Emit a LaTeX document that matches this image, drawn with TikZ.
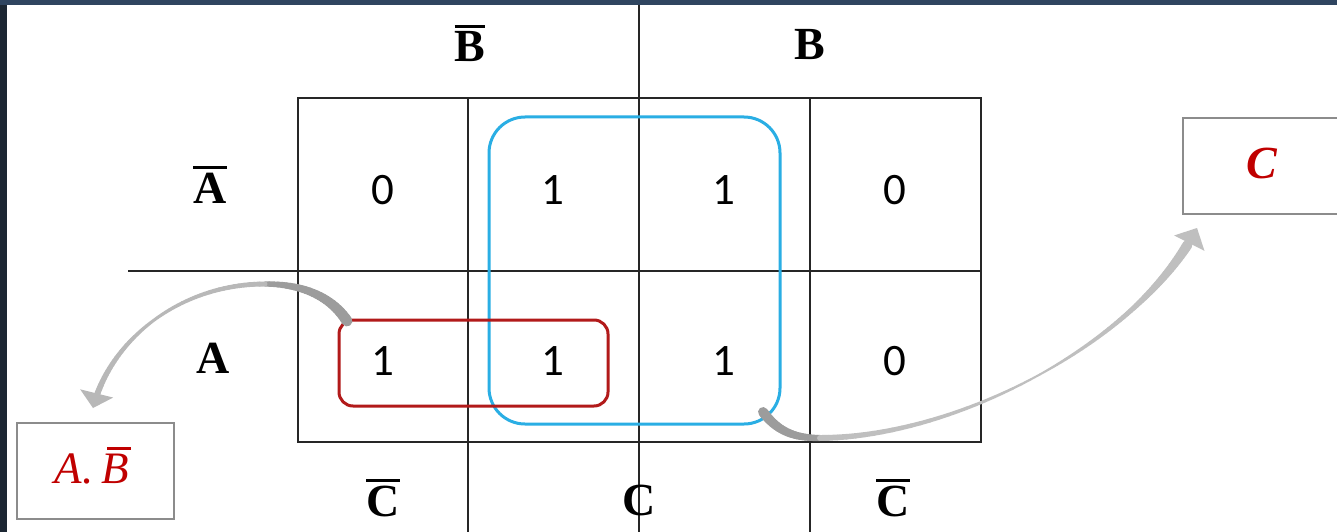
\documentclass[tikz,border=0pt]{standalone}
\usepackage{fontspec}
\setmainfont{Liberation Serif}
\newfontfamily\digitfont{Carlito}
\usetikzlibrary{arrows.meta,calc}
\definecolor{framedark}{HTML}{1C2733}
\definecolor{frametop}{HTML}{2F4560}
\definecolor{kblue}{HTML}{2AAEE4}
\definecolor{kred}{HTML}{B21A1A}
\definecolor{txtred}{HTML}{C00000}
\definecolor{boxgray}{HTML}{8C8C8C}
\definecolor{arrdark}{HTML}{9C9C9C}
\definecolor{arrlight}{HTML}{CACACA}
\newcommand\barred[2][3pt]{\leavevmode\vbox{\hrule height #1\kern 4pt\hbox{#2}}}
\newcommand\ibar[1]{\leavevmode\vbox{\offinterlineskip\moveright6pt\hbox{\vrule width 24pt height 2.5pt depth 0pt}\kern4pt\hbox{#1}}}
% tapered cubic: #1 start coord, #2 #3 ctrl1, #4 #5 ctrl2, #6 end coord, #7 w0, #8 w1, #9 tmax
\newcommand\taperseg[9]{%
  \foreach \k in {0,...,23}{%
    \pgfmathsetmacro\ta{#9*\k/24}%
    \pgfmathsetmacro\tb{#9*(\k+1)/24}%
    \pgfmathsetmacro\ww{#7+(#8-#7)*(\k+0.5)/24}%
    \pgfsetlinewidth{\ww pt}%
    \pgfsetroundcap
    \pgfpathmoveto{\pgfpointcurveattime{\ta}{\pgfpointanchor{#1}{center}}{\pgfpointxy{#2}{#3}}{\pgfpointxy{#4}{#5}}{\pgfpointanchor{#6}{center}}}%
    \pgfpathlineto{\pgfpointcurveattime{\tb}{\pgfpointanchor{#1}{center}}{\pgfpointxy{#2}{#3}}{\pgfpointxy{#4}{#5}}{\pgfpointanchor{#6}{center}}}%
    \pgfusepath{stroke}%
  }}
\begin{document}
\begin{tikzpicture}[x=1pt,y=-1pt,
  gridline/.style={line width=1.6pt, black!85},
  lbl/.style={font=\fontsize{46}{46}\selectfont\bfseries, anchor=base, inner sep=0pt},
  digit/.style={font=\digitfont\fontsize{45}{45}\selectfont, anchor=base, inner sep=0pt},
  resbox/.style={draw=boxgray, line width=1.6pt, minimum width=157pt, minimum height=96pt, inner sep=0pt},
  restext/.style={text=txtred, anchor=base, inner sep=0pt},
  loop/.style={line width=3pt, inner sep=0pt}]
\useasboundingbox (0,0) rectangle (1337,532);
\fill[framedark] (0,0) rectangle (1337,532);
\fill[frametop] (0,0) rectangle (1337,5);
\fill[white] (7,5) rectangle (1337,532);

% grid
\draw[gridline] (298,98) rectangle (981,442);
\draw[gridline] (128,271) -- (981,271);
\draw[gridline] (639,5) -- (639,532);
\draw[gridline] (468,98) -- (468,532);
\draw[gridline] (810,98) -- (810,532);

% labels
\node[lbl] (bbar) at (470,62) {\barred{B}};
\node[lbl] (b) at (810,60) {B};
\node[lbl] (abar) at (210,203) {\barred{A}};
\node[lbl] (a) at (213,373) {A};
\node[lbl] (cbar1) at (383,516) {\barred{C}};
\node[lbl] (c) at (639,515) {C};
\node[lbl] (cbar2) at (893,516) {\barred{C}};

% cells
\node[digit] (m00) at (383,204) {0};
\node[digit] (m01) at (553,204) {1};
\node[digit] (m02) at (724,204) {1};
\node[digit] (m03) at (895,204) {0};
\node[digit] (m10) at (383,375) {1};
\node[digit] (m11) at (553,375) {1};
\node[digit] (m12) at (724,375) {1};
\node[digit] (m13) at (895,375) {0};

% groups
\node[loop, draw=kblue, rounded corners=36pt, minimum width=291pt, minimum height=307pt] (blue) at (634.5,270.5) {};
\node[loop, draw=kred, rounded corners=14pt, minimum width=269pt, minimum height=86pt] (red) at (473.5,363) {};

% result boxes
\node[resbox] (abbox) at (95.5,471) {};
\node[resbox, minimum width=162pt] (cbox) at (1264,166) {};
\node[restext, font=\fontsize{45}{45}\selectfont\itshape] (abtxt) at (93,483) {A.\,\ibar{B}};
\node[restext, font=\fontsize{46}{46}\selectfont\bfseries\itshape] (ctxt) at (1262,178) {C};

% left arrow (red group -> A.B box)
\coordinate (l0) at (347,321);
\coordinate (l2) at (265,284);
\coordinate (l3) at (153.5,320.5);
\coordinate (l4) at (93,408);
\begin{scope}[color=arrdark]
\taperseg{l0}{330}{295}{300}{284}{l2}{11}{5}{1}
\end{scope}
\begin{scope}[color=black!28]
\taperseg{l2}{222.5}{284}{183.75}{298}{l3}{5}{3}{1}
\taperseg{l3}{123.25}{343}{101.5}{374}{l4}{3}{6}{0.88}
\end{scope}
\coordinate (lb) at ($(l4)!15pt!(101.5,374)$);
\fill[black!28] (l4) -- ($(lb)!17pt!90:(l4)$) -- ($(lb)!17pt!-90:(l4)$) -- cycle;

% right arrow (blue group -> C box)
\coordinate (r0) at (763,412);
\coordinate (r1) at (820,438);
\coordinate (r2) at (1039.6,374.6);
\coordinate (r3) at (1133.7,307.9);
\coordinate (r4) at (1197,228);
\begin{scope}[color=arrdark]
\taperseg{r0}{778}{432}{795}{438}{r1}{10}{6}{1}
\end{scope}
\begin{scope}[color=black!25]
\taperseg{r1}{890}{437.5}{970}{413}{r2}{6}{2}{1}
\taperseg{r2}{1074.4}{355.4}{1106.65}{332.75}{r3}{2}{5}{1}
\taperseg{r3}{1160.8}{283.05}{1182.75}{256}{r4}{5}{10}{0.8}
\end{scope}
\coordinate (rb) at ($(r4)!17pt!(1182.75,256)$);
\fill[black!25] (r4) -- ($(rb)!17pt!90:(r4)$) -- ($(rb)!17pt!-90:(r4)$) -- cycle;
\end{tikzpicture}
\end{document}
